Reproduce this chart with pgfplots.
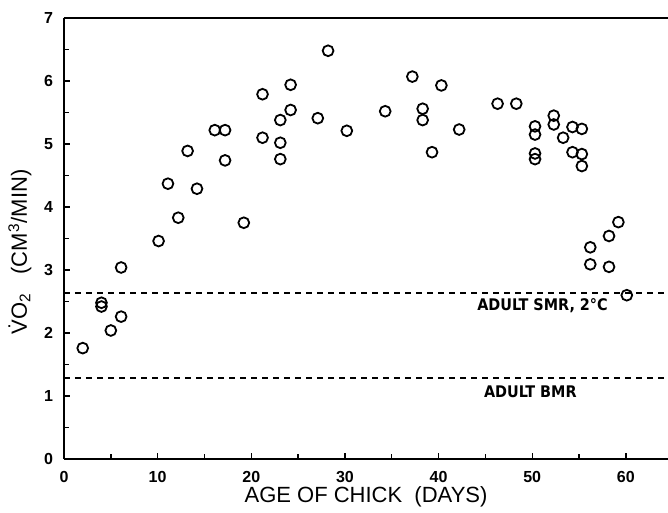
\documentclass[border=0pt]{standalone}
\usepackage{fontspec}
\setmainfont{Liberation Sans}
\newfontfamily\condfont{DejaVu Sans Condensed}
\usepackage{pgfplots}
\pgfplotsset{compat=1.18}

\begin{document}
\begin{tikzpicture}
\useasboundingbox (-32pt,-27pt) rectangle (302pt,229.5pt);
\begin{axis}[
  at={(0,0)}, anchor=south west,
  scale only axis, width=302pt, height=220.5pt,
  xmin=0, xmax=64.5, ymin=0, ymax=7,
  axis x line*=bottom, axis y line*=left,
  axis line style={line width=0.9pt},
  xtick={0,10,...,60}, minor x tick num=1,
  ytick={0,1,...,7}, minor y tick num=1,
  tick align=inside,
  major tick length=3pt, minor tick length=2.5pt,
  tick style={line width=0.7pt, black},
  /pgf/number format/assume math mode=true,
  ticklabel style={font=\bfseries\footnotesize},
  xticklabel style={yshift=-2.5pt},
  yticklabel style={xshift=-2pt},
  xlabel={AGE OF CHICK \ (DAYS)},
  xlabel style={at={(axis description cs:0.5,-0.086)}, anchor=center, font=\fontsize{11}{13}\selectfont},
  ylabel={\.{V}O\textsubscript{2} \ \ (CM\textsuperscript{3}/MIN)},
  ylabel style={at={(axis description cs:-0.073,0.47)}, anchor=center, font=\fontsize{11}{13}\selectfont},
  clip=false,
]
\addplot[only marks, mark=o, mark size=2.7pt, mark options={line width=0.9pt}] coordinates {
(2.0,1.76)(4.0,2.48)(4.0,2.42)(5.0,2.04)(6.1,2.26)(6.1,3.04)
(10.1,3.46)(11.1,4.37)(12.2,3.83)(13.2,4.89)(14.2,4.29)
(16.1,5.22)(17.2,5.22)(17.2,4.74)(19.2,3.75)
(21.2,5.79)(21.2,5.10)(23.1,5.38)(23.1,5.02)(23.1,4.76)
(24.2,5.94)(24.2,5.54)(27.1,5.41)(28.2,6.48)(30.2,5.21)
(34.3,5.52)(37.2,6.07)(38.3,5.56)(38.3,5.38)(39.3,4.87)
(40.3,5.93)(42.2,5.23)(46.3,5.64)(48.3,5.64)
(50.3,5.28)(50.3,5.15)(50.3,4.85)(50.3,4.76)
(52.3,5.45)(52.3,5.31)(53.3,5.10)(54.3,5.27)(54.3,4.87)
(55.3,5.24)(55.3,4.84)(55.3,4.65)
(56.2,3.36)(56.2,3.09)(58.2,3.54)(58.2,3.05)(59.2,3.76)(60.1,2.60)
};
\addplot[line width=0.9pt, dash pattern=on 3pt off 2.5pt] coordinates {(0,2.64)(64.5,2.64)};
\addplot[line width=0.9pt, dash pattern=on 3pt off 2.5pt] coordinates {(0,1.28)(64.5,1.28)};
\draw[line width=0.9pt] (rel axis cs:0,1) -- (rel axis cs:1,1);
\node[font=\condfont\bfseries\footnotesize] at (axis cs:51.1,2.43) {ADULT SMR, 2°C};
\node[font=\condfont\bfseries\footnotesize] at (axis cs:49.8,1.06) {ADULT BMR};
\end{axis}
\end{tikzpicture}
\end{document}
